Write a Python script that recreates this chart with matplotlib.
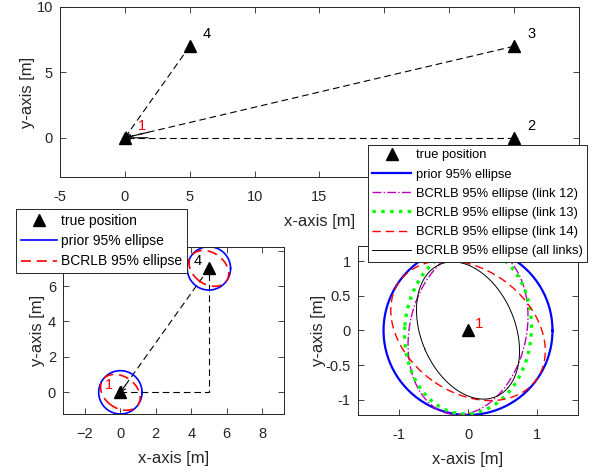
import numpy as np
import matplotlib
matplotlib.use('Agg')
import matplotlib.pyplot as plt
from matplotlib.lines import Line2D

plt.rcParams['font.family'] = ['Liberation Sans', 'DejaVu Sans']

# anchor nodes (node 1 is the target)
node_x = [0, 30, 30, 5]
node_y = [0, 0, 7, 7]
node_names = ['1', '2', '3', '4']

# chi-square 95% quantile, 2 dof
chi2_95 = 5.991

# covariances: prior, link 12, link 13, link 14, all links
cov_names = ['prior', 'link 12', 'link 13', 'link 14', 'all links']
cov_xx = [0.250, 0.126, 0.141, 0.209, 0.093]
cov_yy = [0.250, 0.249, 0.244, 0.172, 0.165]
cov_xy = [0.000, 0.030, 0.008, -0.055, -0.037]

DARK = '#262626'


def ellipse_pts(cx, cy, k, n=200):
    cov = np.array([[cov_xx[k], cov_xy[k]], [cov_xy[k], cov_yy[k]]])
    lam, v = np.linalg.eigh(cov)
    t = np.linspace(0, 2 * np.pi, n)
    circ = np.vstack([np.cos(t), np.sin(t)])
    pts = v @ (np.sqrt(chi2_95 * lam)[:, None] * circ)
    return cx + pts[0], cy + pts[1]


def style_ax(ax):
    ax.tick_params(direction='in', top=True, right=True, length=4, width=0.6,
                   labelsize=10.5, color=DARK, labelcolor=DARK)
    ax.tick_params(axis='x', pad=9.5)
    ax.tick_params(axis='y', pad=5)
    for s in ax.spines.values():
        s.set_color(DARK)
        s.set_linewidth(0.7)
    ax.xaxis.label.set_color(DARK)
    ax.yaxis.label.set_color(DARK)


def dashed_link(ax, i, j):
    # dashed line from node j to node i with a small arrow head at node i
    ax.plot([node_x[j], node_x[i]], [node_y[j], node_y[i]], color='k', lw=0.8,
            dashes=(6, 3.5), zorder=2)
    fx = node_x[i] + 0.06 * (node_x[j] - node_x[i])
    fy = node_y[i] + 0.06 * (node_y[j] - node_y[i])
    ax.annotate('', xy=(node_x[i], node_y[i]), xytext=(fx, fy),
                arrowprops=dict(arrowstyle='->', lw=0.8, color='k',
                                shrinkA=0, shrinkB=0, mutation_scale=8))


fig = plt.figure(figsize=(5.97, 4.72), dpi=100)

# ---- top: network layout
ax1 = fig.add_axes([0.1005, 0.625, 0.8693, 0.3602])
for j in [1, 2, 3]:
    dashed_link(ax1, 0, j)
ax1.plot(node_x, node_y, '^', color='k', ms=8, zorder=3)
for n in range(4):
    ax1.text(node_x[n] + 1.0, node_y[n] + 0.9, node_names[n],
             color='r' if n == 0 else 'k', fontsize=10.5, ha='left', va='center')
ax1.set_xlim(-5, 35)
ax1.set_ylim(-3, 10)
top_xt = np.arange(-5, 36, 5)
ax1.set_xticks(top_xt)
# labels 20..35 sit under the legend box
ax1.set_xticklabels([str(v) if v < 20 else '' for v in top_xt])
ax1.set_yticks([0, 5, 10])
ax1.set_xlabel('x-axis [m]', fontsize=12, labelpad=7)
ax1.set_ylabel('y-axis [m]', fontsize=12, labelpad=1)
style_ax(ax1)

# ---- bottom left: nodes 1 and 4
ax2 = fig.add_axes([0.1055, 0.1229, 0.3702, 0.3544])
dashed_link(ax2, 0, 3)
ax2.plot([node_x[0], node_x[3], node_x[3]], [node_y[0], node_y[0], node_y[3]],
         color='k', lw=0.8, dashes=(6, 3.5), zorder=2)
for n in [0, 3]:
    ex, ey = ellipse_pts(node_x[n], node_y[n], 0)
    ax2.plot(ex, ey, color='b', lw=1.2)
    ex, ey = ellipse_pts(node_x[n], node_y[n], 3)
    ax2.plot(ex, ey, color='r', lw=1.2, dashes=(6, 3.5))
    ax2.plot(node_x[n], node_y[n], '^', color='k', ms=8, zorder=3)
    ax2.text(node_x[n] - 0.4, node_y[n] + 0.4, node_names[n],
             color='r' if n == 0 else 'k', fontsize=10.5, ha='right', va='center')
r0 = np.sqrt(chi2_95 * cov_xx[0])
ax2.set_xlim(min(node_x[0], node_x[3]) - r0, max(node_x[0], node_x[3]) + r0)
ax2.set_ylim(min(node_y[0], node_y[3]) - r0, max(node_y[0], node_y[3]) + r0)
ax2.set_aspect('equal', adjustable='datalim')
ax2.set_xticks(np.arange(-2, 9, 2))
bl_yt = np.arange(0, 9, 2)
ax2.set_yticks(bl_yt)
# tick 8 sits under the legend box
ax2.set_yticklabels([str(v) if v < 8 else '' for v in bl_yt])
ax2.set_xlabel('x-axis [m]', fontsize=12, labelpad=7)
ax2.set_ylabel('y-axis [m]', fontsize=12, labelpad=2)
style_ax(ax2)

# ---- bottom right: ellipses at node 1
ax3 = fig.add_axes([0.5992, 0.1208, 0.3695, 0.358])
ell_styles = [dict(color='b', lw=1.6, ls='-'),
              dict(color='m', lw=1.0, ls='-.'),
              dict(color='#00ff00', lw=2.4, ls=':'),
              dict(color='r', lw=1.0, dashes=(6, 3.5)),
              dict(color='k', lw=0.7, ls='-')]
for k in range(len(cov_names)):
    ex, ey = ellipse_pts(node_x[0], node_y[0], k)
    ax3.plot(ex, ey, **ell_styles[k])
ax3.plot(node_x[0], node_y[0], '^', color='k', ms=8, zorder=3)
ax3.text(node_x[0] + 0.1, node_y[0] + 0.1, node_names[0], color='r',
         fontsize=11, ha='left', va='center')
ax3.set_xlim(-r0, r0)
ax3.set_ylim(-r0, r0)
ax3.set_aspect('equal', adjustable='datalim')
ax3.set_xticks([-1, 0, 1])
ax3.set_yticks([-1, -0.5, 0, 0.5, 1])
ax3.set_yticklabels(['-1', '-0.5', '0', '0.5', '1'])
ax3.set_xticklabels(['-1', '0', '1'])
ax3.set_xlabel('x-axis [m]', fontsize=12, labelpad=7)
ax3.set_ylabel('y-axis [m]', fontsize=12, labelpad=0)
style_ax(ax3)

# ---- legends
tri = Line2D([], [], ls='none', marker='^', color='k', ms=8)
h_left = [tri,
          Line2D([], [], color='b', lw=1.2),
          Line2D([], [], color='r', lw=1.2, dashes=(6, 3.5))]
lab_left = ['true position', 'prior 95% ellipse', 'BCRLB 95% ellipse']
leg1 = fig.legend(h_left, lab_left, loc='upper left', bbox_to_anchor=(0.0263, 0.5572),
                  fontsize=10, fancybox=False, framealpha=1, edgecolor=DARK,
                  handlelength=2.6, labelspacing=0.45, borderpad=0.35,
                  handletextpad=0.3, borderaxespad=0)
leg1.get_frame().set_linewidth(0.7)

h_right = [tri] + [Line2D([], [], **s) for s in ell_styles]
lab_right = ['true position', 'prior 95% ellipse'] + \
    ['BCRLB 95% ellipse (' + c + ')' for c in cov_names[1:]]
leg2 = fig.legend(h_right, lab_right, loc='upper left', bbox_to_anchor=(0.616, 0.693),
                  fontsize=9.3, fancybox=False, framealpha=1, edgecolor=DARK,
                  handlelength=3.0, labelspacing=0.55, borderpad=0.35,
                  handletextpad=0.35, borderaxespad=0)
leg2.get_frame().set_linewidth(0.7)

fig.savefig('out.png', dpi=100)
